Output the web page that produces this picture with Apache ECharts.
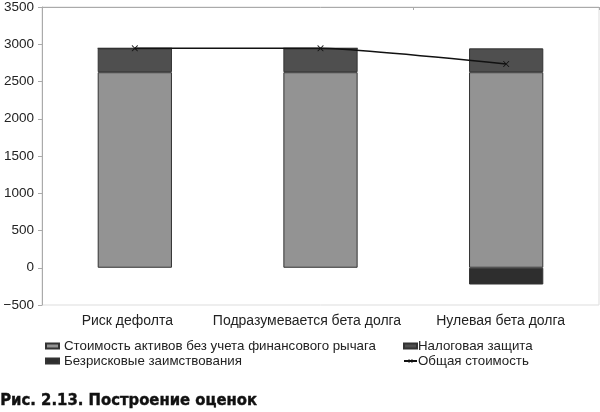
<!DOCTYPE html>
<html><head><meta charset="utf-8">
<script src="https://cdn.jsdelivr.net/npm/echarts@6/dist/echarts.min.js"></script>
<style>html,body{margin:0;padding:0;background:#fff}#c{width:600px;height:412px}</style>
</head><body><div id="c"></div>
<script>
var categories = ['Риск дефолта', 'Подразумевается бета долга', 'Нулевая бета долга'];
var unleveredValue = [2625, 2625, 2625];
var taxShield = [320, 320, 320];
var riskFreeBorrowing = [0, 0, -225];
var totalValue = [2945, 2945, 2735];
var yTicks = {min: -500, max: 3500, interval: 500};
var names = ['Стоимость активов без учета финансового рычага', 'Налоговая защита', 'Безрисковые заимствования', 'Общая стоимость'];
var caption = 'Рис. 2.13. Построение оценок';

var font = 'Liberation Sans, Arial, sans-serif';
var chart = echarts.init(document.getElementById('c'), null, {renderer: 'canvas'});
var barStyle = function (c) { return {color: c, borderColor: '#333', borderWidth: 1}; };
var legendText = {fontFamily: font, fontSize: 13.3, color: '#222', lineHeight: 14};
var catStyle = {fontFamily: font, fontSize: 14, color: '#222'};
chart.setOption({
  animation: false,
  grid: {left: 42, top: 5, right: 1, bottom: 107, show: true, borderColor: '#ddd', borderWidth: 1},
  legend: [
    {orient: 'vertical', left: 40, top: 334, itemWidth: 13, itemHeight: 5, itemGap: 1,
     textStyle: legendText, data: [{name: names[0], icon: 'rect'}, {name: names[2], icon: 'rect'}]},
    {orient: 'vertical', left: 398, top: 334, itemWidth: 13, itemHeight: 5, itemGap: 1,
     textStyle: Object.assign({}, legendText, {padding: [0, 0, 0, -4]}),
     data: [{name: names[1], icon: 'rect'}, names[3]]}
  ],
  xAxis: [
    {type: 'category', data: categories, position: 'bottom',
     axisLine: {show: false}, axisTick: {show: false},
     axisLabel: {margin: 9, interval: 0,
       formatter: function (v, i) { return '{c' + i + '|' + v + '}'; },
       rich: {
         c0: Object.assign({padding: [0, 15, 0, 0]}, catStyle),
         c1: Object.assign({padding: [0, 27, 0, 0]}, catStyle),
         c2: Object.assign({padding: [0, 11, 0, 0]}, catStyle)
       }}},
    {type: 'category', data: categories, position: 'top',
     axisLine: {show: true, onZero: true, lineStyle: {color: '#aaa', width: 1}},
     axisTick: {show: true, inside: true, length: 3, lineStyle: {color: '#aaa'}},
     axisLabel: {show: false}}
  ],
  yAxis: {type: 'value', min: yTicks.min, max: yTicks.max, interval: yTicks.interval,
    splitLine: {show: false},
    axisLine: {show: true, lineStyle: {color: '#aaa'}},
    axisTick: {show: true, length: 4, lineStyle: {color: '#aaa'}},
    axisLabel: {fontFamily: font, fontSize: 13.5, color: '#222', margin: 8,
      formatter: function (v) { return String(v).replace('-', '\u2212'); }}},
  series: [
    {name: names[0], type: 'bar', stack: 's', barWidth: '40%', data: unleveredValue, itemStyle: barStyle('#939393')},
    {name: names[1], type: 'bar', stack: 's', barWidth: '40%', data: taxShield, itemStyle: barStyle('#4f4f4f')},
    {name: names[2], type: 'bar', stack: 's', barWidth: '40%', data: riskFreeBorrowing, itemStyle: barStyle('#2e2e2e')},
    {name: names[3], type: 'line', data: totalValue, smooth: 0.15, z: 5,
     symbol: 'path://M0,0L1,0L5,4L9,0L10,0L10,1L6,5L10,9L10,10L9,10L5,6L1,10L0,10L0,9L4,5L0,1Z',
     symbolSize: 6,
     lineStyle: {color: '#111', width: 1.5}, itemStyle: {color: '#111'}}
  ],
  graphic: [{type: 'text', left: 0, top: 392,
    style: {text: caption, font: 'bold 16.5px "DejaVu Sans Condensed", "Liberation Sans Narrow", sans-serif',
      fill: '#111', stroke: '#111', lineWidth: 0.4}}]
});
</script></body></html>
